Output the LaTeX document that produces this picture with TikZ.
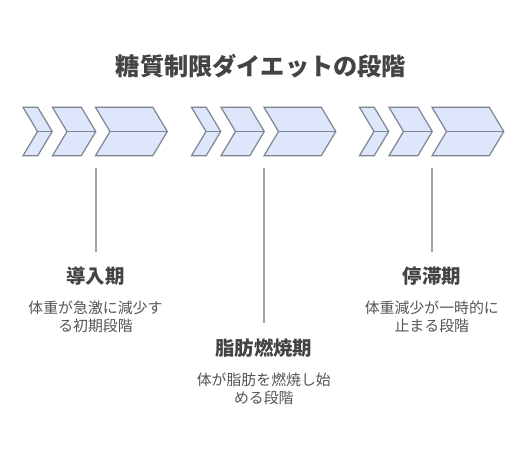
\documentclass[tikz,border=0pt]{standalone}
\usepackage{fontspec}
\setmainfont{Noto Sans CJK JP}
\newfontfamily\cjk{Noto Sans CJK JP}
\definecolor{chfill}{HTML}{DDE6FB}
\definecolor{chline}{HTML}{7F8491}
\definecolor{txt}{HTML}{444444}
\definecolor{dtxt}{HTML}{555555}
\definecolor{vline}{HTML}{A3A3A3}
\tikzset{
  chev/.style={fill=chfill,draw=chline,line width=1.2pt,line join=miter},
  chmid/.style={draw=chline,line width=1.2pt},
  titletext/.style={font=\cjk\fontsize{24.2}{29}\selectfont\bfseries,text=txt,inner sep=0pt},
  headtext/.style={font=\cjk\fontsize{19.4}{23}\selectfont\bfseries,text=txt,inner sep=0pt},
  desctext/.style={font=\cjk\fontsize{14.9}{18}\selectfont,text=dtxt,inner sep=0pt,align=center},
  stem/.style={draw=vline,line width=2pt}
}
\newcommand{\chevron}[3]{% a, b, d
  \path[chev] (#1,107.3) -- (#2,107.3) -- ({#2+#3},131.5) -- (#2,155.7) -- (#1,155.7) -- ({#1+#3},131.5) -- cycle;
  \path[chmid] ({#1+#3},131.5) -- ({#2+#3},131.5);
}
\newcommand{\chevgroup}[1]{%
  \chevron{#1}{#1+14.7}{14.5}
  \chevron{#1+29.5}{#1+58.3}{14.5}
  \chevron{#1+72.5}{#1+129.8}{14.5}
}
\begin{document}
\begin{tikzpicture}[x=1pt,y=-1pt]
\useasboundingbox (0,0) rectangle (528,456);
\fill[white] (0,0) rectangle (528,456);
\node[titletext] (title) at (261,66.5) {糖質制限ダイエットの段階};
\chevgroup{23}
\chevgroup{191.5}
\chevgroup{359.5}
% stems
\coordinate (s1) at (95.5,168);
\coordinate (s2) at (263.8,168);
\coordinate (s3) at (431.8,168);
\coordinate (e1) at (95.5,251.5);
\coordinate (e2) at (263.8,322.5);
\coordinate (e3) at (431.8,251.5);
\draw[stem] (s1) -- (e1);
\draw[stem] (s2) -- (e2);
\draw[stem] (s3) -- (e3);
% texts
\node[headtext] (h1) at (95.5,276.5) {導入期};
\node[desctext] (d1) at (95.5,317) {体重が急激に減少す\\る初期段階};
\node[headtext] (h3) at (431.8,276.5) {停滞期};
\node[desctext] (d3) at (431.8,317) {体重減少が一時的に\\止まる段階};
\node[headtext] (h2) at (263.8,348) {脂肪燃焼期};
\node[desctext] (d2) at (263.8,389.3) {体が脂肪を燃焼し始\\める段階};
\end{tikzpicture}
\end{document}
